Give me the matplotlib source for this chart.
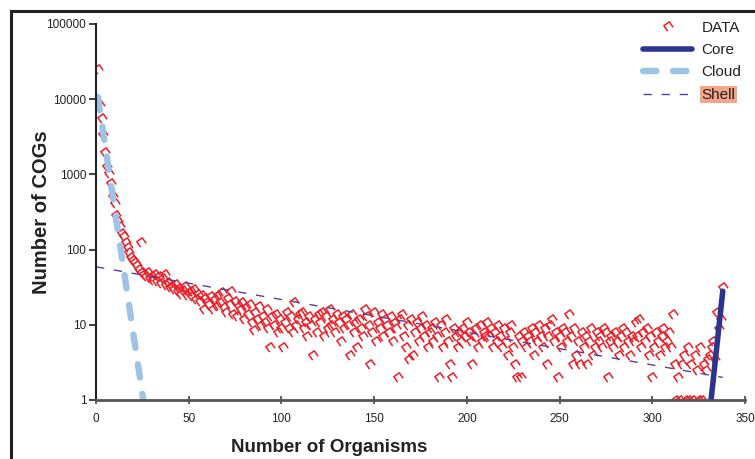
import numpy as np
import matplotlib
matplotlib.use("Agg")
import matplotlib.pyplot as plt
from matplotlib.path import Path
from matplotlib.markers import MarkerStyle
from matplotlib.transforms import Affine2D
from matplotlib.lines import Line2D
from matplotlib.ticker import FixedLocator, FuncFormatter, NullLocator

plt.rcParams['font.family'] = ['Liberation Sans', 'DejaVu Sans']

# number of COGs shared by exactly n organisms, n = 1..338
cog_counts = [
    25000, 8500, 5600, 3400, 2000, 1300, 1050, 780, 520, 420,
    290, 240, 205, 165, 150, 125, 108, 92, 80, 72,
    68, 62, 56, 125, 50, 47, 45, 50, 42, 44,
    40, 47, 38, 45, 36, 42, 48, 34, 37, 32,
    33, 30, 35, 28, 31, 26, 29, 33, 25, 27,
    28, 24, 30, 22, 26, 21, 25, 16, 23, 20,
    19, 24, 16, 22, 18, 25, 20, 27, 17, 15,
    23, 19, 28, 14, 21, 13, 18, 16, 20, 12,
    17, 14, 19, 11, 8.5, 15, 12, 18, 10, 13,
    11, 16, 9, 5, 13, 10, 14, 8, 12, 9,
    5, 11, 15, 9, 13, 8, 20, 10, 12, 14,
    15, 9, 11, 7, 13, 10, 4, 12, 8, 14,
    11, 15, 7, 13, 9, 16, 10, 12, 8, 14,
    11, 6, 13, 9, 12, 10, 4, 14, 8, 11,
    5, 12, 9, 7, 16, 13, 10, 3, 8, 15,
    6, 11, 9, 14, 7, 12, 10, 8, 13, 6,
    11, 9, 2, 12, 14, 7, 5, 10, 3.5, 12,
    4, 8, 11, 6, 9, 13, 7, 10, 5, 8,
    9, 6, 11, 7, 2, 10, 5, 8, 12, 6,
    3, 2, 9, 7, 5, 8, 6, 9, 7, 11,
    8, 6, 3, 7, 9, 5, 10, 6, 8, 7,
    11, 7, 9, 5, 8, 6, 10, 7, 5, 9,
    6, 4, 8, 10, 5, 3, 2, 7, 2, 6,
    8, 5, 7, 6, 9, 4, 8, 6, 10, 7,
    5, 9, 3, 7, 10, 12, 6, 8, 2, 7,
    5, 9, 8, 6, 14, 7, 3, 9, 4, 6,
    3, 8, 5, 7, 3, 6, 9, 4, 5, 8,
    6, 7, 5, 9, 8, 2, 6, 7, 5, 8,
    6, 4, 7, 9, 5, 8, 6, 4, 7, 6,
    11, 7, 12, 5, 8, 6, 9, 4, 7, 2,
    5, 8, 6, 4, 7, 9, 5, 6, 8, 5,
    14, 3, 1, 2, 1, 3, 4, 1, 5, 1,
    3, 1, 4, 2.5, 1, 5, 1, 3, 2.5, 3.5,
    4, 5, 6, 3.5, 15, 9, 12, 32,
]
organisms = np.arange(1, len(cog_counts) + 1)

# fitted components, straight segments on the log axis
cloud_x = [1, 25.5]
cloud_y = [10700, 1]
shell_x = [0, 338]
shell_y = [59, 2]
core_x = [331.7, 338]
core_y = [1, 28]

x_ticks = [0, 50, 100, 150, 200, 250, 300, 350]
y_ticks = [1, 10, 100, 1000, 10000, 100000]

red = '#EE1C25'
navy = '#2B3590'
light_blue = '#9DC3E6'
purple = '#5B3E9A'

# little open bracket used for the data points
bracket = Path([(-1, -1), (-1, 1), (1, 1), (1, -1)],
               [Path.MOVETO, Path.LINETO, Path.LINETO, Path.LINETO])
data_marker = MarkerStyle(bracket, transform=Affine2D().rotate_deg(35))

fig = plt.figure(figsize=(7.55, 4.59), dpi=100)
ax = fig.add_axes([96 / 755, 1 - 400 / 459, 649 / 755, 376 / 459])

ax.plot(organisms, cog_counts, linestyle='none', marker=data_marker,
        markersize=4.8, markerfacecolor='none', markeredgecolor=red,
        markeredgewidth=1.1, label='DATA')
ax.plot(core_x, core_y, color=navy, linewidth=4.0, solid_capstyle='round',
        label='Core')
ax.plot(cloud_x, cloud_y, color=light_blue, linewidth=4.6,
        dashes=(2.1, 2.6), dash_capstyle='round', label='Cloud')
ax.plot(shell_x, shell_y, color=purple, linewidth=1.0, dashes=(6, 7),
        label='Shell')

ax.set_yscale('log')
ax.set_xlim(0, 350)
ax.set_ylim(1, 100000)
ax.xaxis.set_major_locator(FixedLocator(x_ticks))
ax.yaxis.set_major_locator(FixedLocator(y_ticks))
ax.yaxis.set_minor_locator(NullLocator())
ax.yaxis.set_major_formatter(FuncFormatter(lambda v, p: f'{int(v)}'))

for side in ['top', 'right']:
    ax.spines[side].set_visible(False)
ax.spines['left'].set_color('#222222')
ax.spines['left'].set_linewidth(1.5)
ax.spines['bottom'].set_color('#555555')
ax.spines['bottom'].set_linewidth(2.0)
ax.tick_params(axis='y', direction='out', length=5, width=1.2,
               colors='#222222', labelsize=8.5, pad=2)
ax.tick_params(axis='x', direction='inout', length=6, width=1.2,
               colors='#444444', labelsize=8.5, pad=6, labelcolor='#222222')

ax.set_xlabel('Number of Organisms', fontsize=13.5, fontweight='bold',
              color='#222222')
ax.xaxis.set_label_coords(0.36, -0.105)
ax.set_ylabel('Number of COGs', fontsize=14.5, fontweight='bold',
              color='#222222')
ax.yaxis.set_label_coords(-0.07, 0.5)

leg = ax.legend(loc='upper right', bbox_to_anchor=(749 / 755, 1 - 13 / 459),
                bbox_transform=fig.transFigure, frameon=False, fontsize=11,
                handlelength=3.2, handletextpad=0.6, labelspacing=0.55,
                borderpad=0, numpoints=1)
for t in leg.get_texts():
    t.set_color('#222222')
leg.get_texts()[3].set_bbox(dict(facecolor='#F4A58A', edgecolor='none', pad=1))

# outer frame line on the top and left edges
fig.add_artist(Line2D([11 / 755, 11 / 755], [0, 1 - 11 / 459],
                      transform=fig.transFigure, color='#222222', linewidth=2.2))
fig.add_artist(Line2D([11 / 755, 1], [1 - 11 / 459, 1 - 11 / 459],
                      transform=fig.transFigure, color='#222222', linewidth=2.2))

fig.savefig('out.png', dpi=100)
